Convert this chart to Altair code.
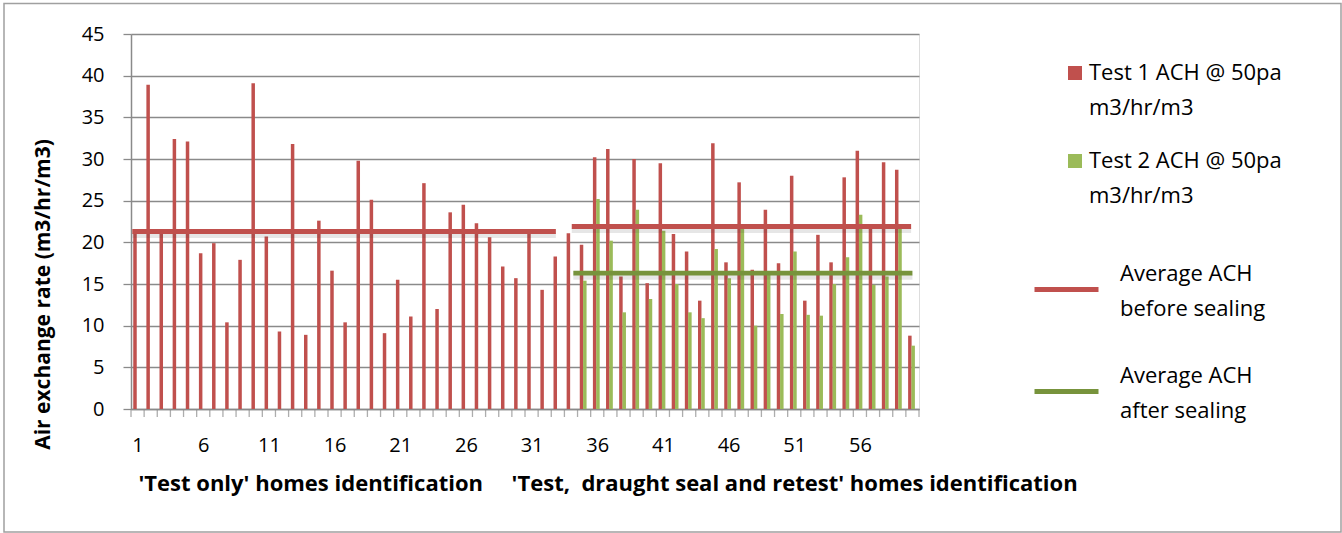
import altair as alt
import pandas as pd

# Home identifiers (1-34: test only, 35-60: test, draught seal and retest)
homes = list(range(1, 61))

# Air exchange rate at 50 Pa (m3/hr/m3)
test1 = [21.2, 38.9, 21.2, 32.4, 32.1, 18.7, 19.9, 10.4, 17.9, 39.1,
         20.7, 9.3, 31.8, 8.9, 22.6, 16.6, 10.4, 29.8, 25.1, 9.1,
         15.5, 11.1, 27.1, 12.0, 23.6, 24.5, 22.3, 20.6, 17.1, 15.7,
         21.1, 14.3, 18.3, 21.1, 19.7, 30.2, 31.2, 15.9, 30.0, 15.1,
         29.5, 21.0, 18.9, 13.0, 31.9, 17.6, 27.2, 16.7, 23.9, 17.5,
         28.0, 13.0, 20.9, 17.6, 27.8, 31.0, 21.6, 29.6, 28.7, 8.8]
test2 = [None] * 34 + [15.4, 25.2, 20.2, 11.6, 23.9, 13.2, 21.4, 15.0, 11.6, 10.9,
                       19.2, 15.7, 21.6, 10.0, 16.3, 11.4, 18.9, 11.3, 11.2, 15.0,
                       18.2, 23.3, 14.9, 15.9, 21.6, 7.6]

series_names = ["Test 1 ACH @ 50pa m3/hr/m3", "Test 2 ACH @ 50pa m3/hr/m3"]
bar_colors = ["#C0504D", "#9BBB59"]

# Group averages drawn as horizontal segments
avg_series = ["Average ACH before sealing", "Average ACH before sealing", "Average ACH after sealing"]
avg_start = [0.6, 34.06, 34.18]
avg_end = [32.85, 59.9, 60.0]
avg_value = [21.3, 21.9, 16.3]
avg_names = ["Average ACH before sealing", "Average ACH after sealing"]
avg_colors = ["#C0504D", "#77933C"]

y_ticks = list(range(0, 50, 5))
x_labels = list(range(1, 61, 5))
x_bounds = [i + 0.5 for i in range(61)]

NB = "\u00a0"
x_title = ("'Test only' homes identification" + NB * 5 +
           "'Test," + NB * 2 + "draught seal and retest' homes identification").replace(" ", NB)

rows = []
for h, v in zip(homes, test1):
    rows.append({"home": h, "series": series_names[0], "value": v})
for h, v in zip(homes, test2):
    if v is not None:
        rows.append({"home": h, "series": series_names[1], "value": v})
bars_df = pd.DataFrame(rows)

avg_df = pd.DataFrame({"series": avg_series, "start": avg_start,
                       "end": avg_end, "value": avg_value})
bounds_df = pd.DataFrame({"b": x_bounds})

FONT = "Open Sans"
GREY = "#8A8A8A"

x_scale = alt.Scale(domain=[0.5, 60.5], nice=False, zero=False, padding=0)
y_scale = alt.Scale(domain=[0, 45], nice=False, padding=0)

x_axis = alt.Axis(
    values=x_labels, ticks=False, tickSize=0,
    labelFlush=False, labelOverlap=False,
    domainColor=GREY, domainWidth=1.5,
    labelFontSize=20, labelFont=FONT, labelColor="black", labelPadding=26,
    grid=False,
    title=x_title, titleX=7, titleY=81, titleAnchor="start", titleAlign="left",
    titleBaseline="alphabetic", titleFontSize=22, titleFont=FONT,
    titleFontWeight="bold", titleColor="black",
)

y_axis = alt.Axis(
    values=y_ticks, grid=True, gridColor=GREY, gridWidth=1.6,
    tickSize=8, tickColor=GREY, tickWidth=1.3,
    domainColor=GREY, domainWidth=1.5,
    labelFontSize=20, labelFont=FONT, labelColor="black", labelPadding=19,
    title="Air exchange rate (m3/hr/m3)", titleX=-88, titleY=260,
    titleAngle=270, titleAlign="center", titleBaseline="middle",
    titleFontSize=21, titleFont=FONT, titleFontWeight="bold", titleColor="black",
)

frame = alt.Chart(pd.DataFrame({"k": [0]})).mark_rect(
    fill="transparent", stroke="#A0A0A0", strokeWidth=1.5
).encode(
    x=alt.value(-127), x2=alt.value(1210), y=alt.value(-30.5), y2=alt.value(498)
)

# small tick marks between homes along the x axis
x_ticks = alt.Chart(bounds_df).mark_tick(
    orient="vertical", size=8, thickness=1.3, color=GREY, yOffset=4
).encode(x=alt.X("b:Q", scale=x_scale), y=alt.datum(0))

bars = alt.Chart(bars_df).transform_calculate(
    pos=f"datum.home + (datum.series == '{series_names[0]}' ? -0.196 : 0.055)"
).mark_bar(width=3.5).encode(
    x=alt.X("pos:Q", scale=x_scale, axis=x_axis),
    y=alt.Y("value:Q", scale=y_scale, axis=y_axis),
    color=alt.Color(
        "series:N",
        scale=alt.Scale(domain=series_names, range=bar_colors),
        legend=alt.Legend(
            title=None, orient="none", legendX=933, legendY=28,
            symbolType="square", symbolSize=196, symbolStrokeWidth=0,
            labelExpr="[replace(datum.label, ' m3/hr/m3', ''), 'm3/hr/m3']",
            labelFontSize=22, labelFont=FONT, labelColor="black",
            labelOffset=3, labelLimit=400,
            rowPadding=31, padding=0,
        ),
    ),
)

shadow = alt.Chart(avg_df).mark_rule(
    strokeWidth=5, color="#404040", opacity=0.13, yOffset=4
).encode(x="start:Q", x2="end:Q", y="value:Q")

avg_lines = alt.Chart(avg_df).mark_rule(strokeWidth=4.8).encode(
    x=alt.X("start:Q", scale=x_scale),
    x2="end:Q",
    y=alt.Y("value:Q", scale=y_scale),
    stroke=alt.Stroke(
        "series:N",
        scale=alt.Scale(domain=avg_names, range=avg_colors),
        legend=alt.Legend(
            title=None, orient="none", legendX=901, legendY=205,
            symbolType="M-1,0.5L1,0.5", symbolSize=4096, symbolStrokeWidth=5,
            labelExpr="['Average ACH', replace(datum.label, 'Average ACH ', '')]",
            labelFontSize=22, labelFont=FONT, labelColor="black",
            labelOffset=19, labelLimit=400,
            rowPadding=21, padding=0,
        ),
    ),
)

chart = alt.layer(frame, x_ticks, bars, shadow, avg_lines).resolve_scale(
    color="independent", stroke="independent"
).properties(
    width=788, height=375,
    autosize=alt.AutoSizeParams(type="none"),
    padding={"left": 131, "top": 34, "right": 423, "bottom": 124},
).configure_view(stroke=None).configure(
    style={"guide-label": {"lineHeight": 35}}
)

chart.save("out.html", embed_options={"renderer": "svg", "actions": False})
